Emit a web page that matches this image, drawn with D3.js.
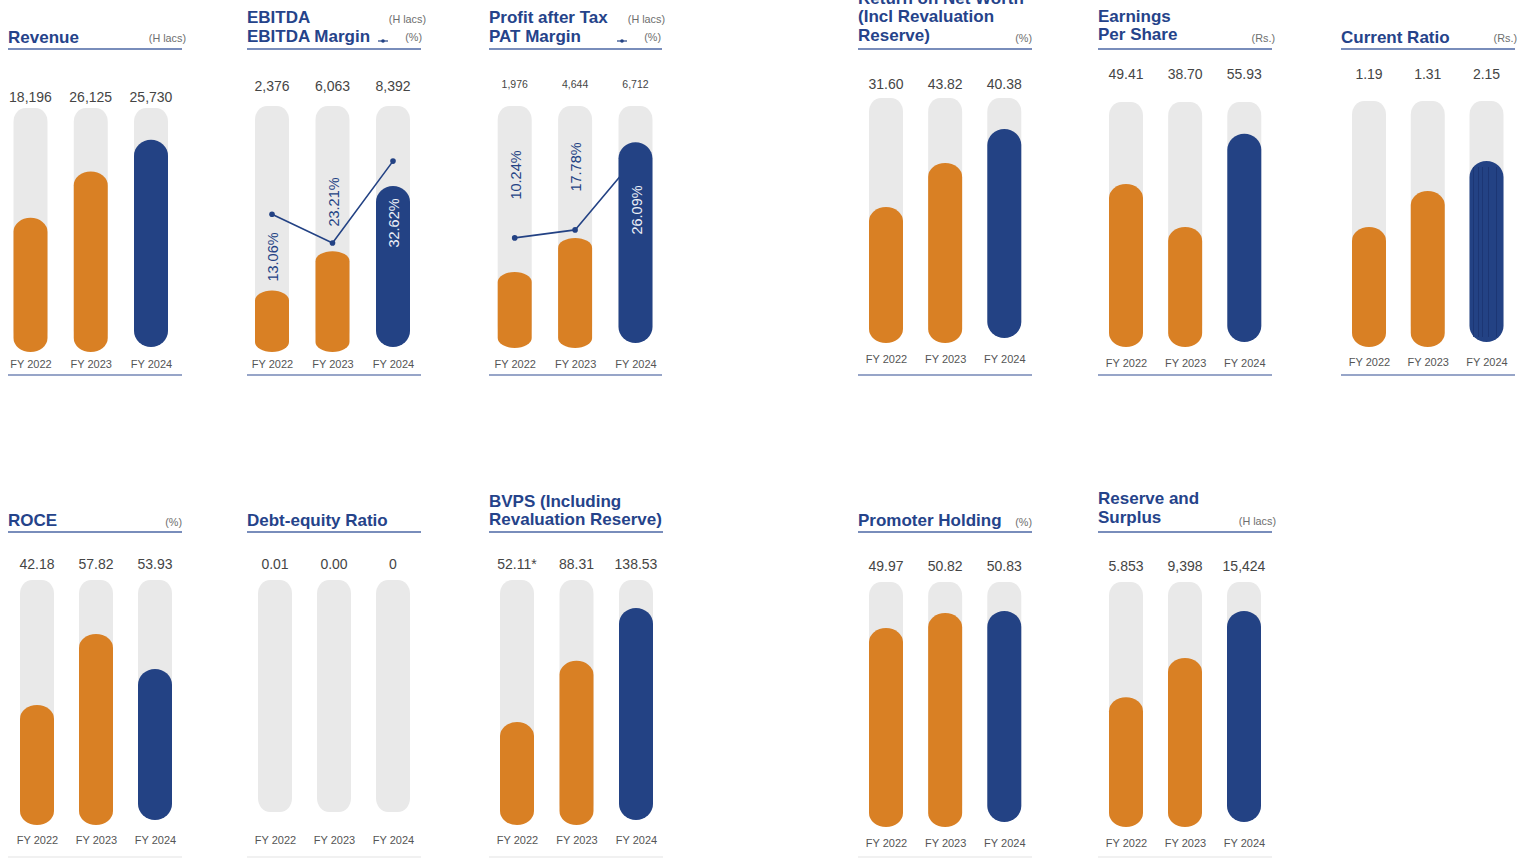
<!DOCTYPE html>
<html>
<head>
<meta charset="utf-8">
<script src="https://cdn.jsdelivr.net/npm/d3@7"></script>
<style>
  body { margin: 0; background: #fff; }
  svg { display: block; }
  text { font-family: "Liberation Sans", Arial, sans-serif; }
</style>
</head>
<body>
<svg id="chart" width="1532" height="858"></svg>
<script>
// categories
const years = ['FY 2022', 'FY 2023', 'FY 2024'];

// value labels as printed, and bar fill levels (% of track)
const revenueLabels = ['18,196', '26,125', '25,730'];
const revenueLevels = [55, 74, 87];

const ebitdaLabels = ['2,376', '6,063', '8,392'];
const ebitdaLevels = [25, 41, 67.5];
const ebitdaMarginLabels = ['13.06%', '23.21%', '32.62%'];
const ebitdaMarginLevels = [56, 44.3, 77.6];

const patLabels = ['1,976', '4,644', '6,712'];
const patLevels = [31.4, 45.5, 85];
const patMarginLabels = ['10.24%', '17.78%', '26.09%'];
const patMarginLevels = [45.5, 48.8, 78.5];

const ronwLabels = ['31.60', '43.82', '40.38'];
const ronwLevels = [55.5, 73.5, 87.3];

const epsLabels = ['49.41', '38.70', '55.93'];
const epsLevels = [66.5, 49, 87];

const currentRatioLabels = ['1.19', '1.31', '2.15'];
const currentRatioLevels = [48.8, 63.4, 75.6];

const roceLabels = ['42.18', '57.82', '53.93'];
const roceLevels = [49, 78, 63.7];

const debtEquityLabels = ['0.01', '0.00', '0'];
const debtEquityLevels = [0, 0, 0];

const bvpsLabels = ['52.11*', '88.31', '138.53'];
const bvpsLevels = [42, 67, 88.6];

const promoterLabels = ['49.97', '50.82', '50.83'];
const promoterLevels = [81.2, 87.3, 88.2];

const reserveLabels = ['5.853', '9,398', '15,424'];
const reserveLevels = [53, 69, 88.2];

const BLUE = '#234284', ORANGE = '#d98024', TRACK = '#e9e9e9', TITLE = '#25438a';

const panels = [
  { title: ['Revenue'], titleY: 42.5, units: [['(H lacs)', 186, 42]], left: 8, right: 182, lineY: 49,
    xr: [30.5, 151], trackTop: 108, base: 352, valueY: 101.5, fyY: 367.5, axisY: 375,
    labels: revenueLabels, levels: revenueLevels },
  { title: ['EBITDA', 'EBITDA Margin'], titleY: 23.3, units: [['(H lacs)', 426, 23], ['(%)', 422, 41]], left: 247, right: 421, lineY: 49,
    xr: [272, 393], trackTop: 106, base: 352, valueY: 90.5, fyY: 368, axisY: 375, capRy: 10, legend: [378, 41],
    labels: ebitdaLabels, levels: ebitdaLevels,
    margin: ebitdaMarginLevels, marginLabels: ebitdaMarginLabels, marginLabelY: [257, 202, 223] },
  { title: ['Profit after Tax', 'PAT Margin'], titleY: 23.3, units: [['(H lacs)', 665, 23], ['(%)', 661, 41]], left: 489, right: 662, lineY: 49,
    xr: [514.7, 635.5], trackTop: 106, base: 348, valueY: 88, valueSize: 10.5, fyY: 367.5, axisY: 375, capRy: 10, legend: [617, 41],
    labels: patLabels, levels: patLevels,
    margin: patMarginLevels, marginLabels: patMarginLabels, marginLabelY: [175, 167, 210] },
  { title: ['Return on Net Worth', '(Incl Revaluation', 'Reserve)'], titleY: 3.5, units: [['(%)', 1032, 42]], left: 858, right: 1032, lineY: 49,
    xr: [886, 1004.3], trackTop: 98, base: 343, valueY: 89, fyY: 362.5, axisY: 375,
    labels: ronwLabels, levels: ronwLevels },
  { title: ['Earnings', 'Per Share'], titleY: 21.5, units: [['(Rs.)', 1275, 42]], left: 1098, right: 1272, lineY: 49,
    xr: [1126, 1244.3], trackTop: 102, base: 347, valueY: 79, fyY: 366.5, axisY: 375,
    labels: epsLabels, levels: epsLevels },
  { title: ['Current Ratio'], titleY: 42.5, units: [['(Rs.)', 1517, 42]], left: 1341, right: 1515, lineY: 49,
    xr: [1369, 1486.5], trackTop: 101, base: 347, valueY: 79, fyY: 366, axisY: 375, stripes: true,
    labels: currentRatioLabels, levels: currentRatioLevels },
  { title: ['ROCE'], titleY: 525.7, units: [['(%)', 182, 526]], left: 8, right: 182, lineY: 532,
    xr: [37, 155], trackTop: 580, base: 825, valueY: 569, fyY: 844, axisY: 857, axisColor: '#ececec',
    labels: roceLabels, levels: roceLevels },
  { title: ['Debt-equity Ratio'], titleY: 525.7, units: [], left: 247, right: 421, lineY: 532,
    xr: [275, 393], trackTop: 580, base: 812, trackBottom: 812, valueY: 569, fyY: 844, axisY: 857, axisColor: '#ececec',
    labels: debtEquityLabels, levels: debtEquityLevels },
  { title: ['BVPS (Including', 'Revaluation Reserve)'], titleY: 506.5, units: [], left: 489, right: 663, lineY: 532,
    xr: [517, 636], trackTop: 580, base: 825, valueY: 569, fyY: 844, axisY: 857, axisColor: '#ececec',
    labels: bvpsLabels, levels: bvpsLevels },
  { title: ['Promoter Holding'], titleY: 526, units: [['(%)', 1032, 526]], left: 858, right: 1032, lineY: 532,
    xr: [886, 1004.3], trackTop: 582, base: 827, valueY: 571, fyY: 846.5, axisY: 857, axisColor: '#ececec',
    labels: promoterLabels, levels: promoterLevels },
  { title: ['Reserve and', 'Surplus'], titleY: 504, units: [['(H lacs)', 1276, 525]], left: 1098, right: 1272, lineY: 532,
    xr: [1126, 1244], trackTop: 582, base: 827, valueY: 571, fyY: 846.5, axisY: 857, axisColor: '#ececec',
    labels: reserveLabels, levels: reserveLevels }
];

const svg = d3.select('#chart');
const bw = 34;

panels.forEach(p => {
  const g = svg.append('g');
  const x = d3.scalePoint().domain(years).range(p.xr);
  const y = d3.scaleLinear().domain([0, 100]).range([p.base, p.trackTop]);

  // title + units + underline
  p.title.forEach((t, i) => {
    g.append('text').attr('x', p.left).attr('y', p.titleY + i * 18.8)
      .attr('font-size', 17).attr('font-weight', 'bold').attr('fill', TITLE).text(t);
  });
  p.units.forEach(u => {
    g.append('text').attr('x', u[1]).attr('y', u[2]).attr('text-anchor', 'end')
      .attr('font-size', 10.8).attr('fill', '#6e6e6e').text(u[0]);
  });
  g.append('line').attr('x1', p.left).attr('x2', p.right).attr('y1', p.lineY).attr('y2', p.lineY)
    .attr('stroke', '#4d67a4').attr('stroke-width', 1.4);

  if (p.legend) {
    g.append('line').attr('x1', p.legend[0]).attr('x2', p.legend[0] + 10)
      .attr('y1', p.legend[1]).attr('y2', p.legend[1]).attr('stroke', BLUE).attr('stroke-width', 1.2);
    g.append('circle').attr('cx', p.legend[0] + 5).attr('cy', p.legend[1]).attr('r', 1.8).attr('fill', BLUE);
  }

  // tracks
  const tb = p.trackBottom || (p.base - 8);
  g.selectAll('.track').data(years).enter().append('rect')
    .attr('class', 'track')
    .attr('x', d => x(d) - bw / 2).attr('y', p.trackTop)
    .attr('width', bw).attr('height', tb - p.trackTop)
    .attr('rx', 12).attr('ry', 14).attr('fill', TRACK);

  // margin line (sits under the fills)
  if (p.margin) {
    const pts = years.map((d, i) => ({ year: d, level: p.margin[i] }));
    g.append('path').datum(pts)
      .attr('d', d3.line().x(d => x(d.year)).y(d => y(d.level)))
      .attr('fill', 'none').attr('stroke', BLUE).attr('stroke-width', 1.6);
    g.selectAll('.dot').data(pts).enter().append('circle')
      .attr('cx', d => x(d.year)).attr('cy', d => y(d.level)).attr('r', 2.8).attr('fill', BLUE);
  }

  // fills
  const fills = years.map((d, i) => ({ year: d, level: p.levels[i], last: i === years.length - 1 }))
    .filter(d => d.level > 0);
  g.selectAll('.fill').data(fills).enter().append('rect')
    .attr('class', 'fill')
    .attr('x', d => x(d.year) - bw / 2)
    .attr('y', d => y(d.level))
    .attr('width', bw)
    .attr('height', d => (d.last ? p.base - 5 : p.base) - y(d.level))
    .attr('rx', bw / 2)
    .attr('ry', d => d.last ? 16 : (p.capRy || 14))
    .attr('fill', d => d.last ? BLUE : ORANGE);

  // the blue bar in the current ratio panel shows faint vertical streaks
  if (p.stripes) {
    const last = fills[fills.length - 1];
    const cx = x(last.year);
    [-13, -8, -4, 2, 10].forEach(o => {
      g.append('line').attr('x1', cx + o).attr('x2', cx + o)
        .attr('y1', y(last.level) + 6).attr('y2', p.base - 10)
        .attr('stroke', '#1b3470').attr('stroke-width', 0.8);
    });
  }

  // rotated margin labels
  if (p.marginLabels) {
    years.forEach((d, i) => {
      g.append('text')
        .attr('transform', `translate(${x(d) + 1},${p.marginLabelY[i]}) rotate(-90)`)
        .attr('text-anchor', 'middle').attr('dominant-baseline', 'central')
        .attr('font-size', 14.5)
        .attr('fill', i === years.length - 1 ? '#eef1f8' : BLUE)
        .text(p.marginLabels[i]);
    });
  }

  // value labels
  g.selectAll('.val').data(years).enter().append('text')
    .attr('x', d => x(d)).attr('y', p.valueY).attr('text-anchor', 'middle')
    .attr('font-size', p.valueSize || 14).attr('fill', '#454545')
    .text((d, i) => p.labels[i]);

  // category axis
  const ax = g.append('g').attr('transform', `translate(0,${p.fyY})`)
    .call(d3.axisBottom(x).tickSize(0).tickPadding(0));
  ax.select('.domain').remove();
  ax.selectAll('text').attr('y', 0).attr('dy', 0)
    .attr('font-size', 11).attr('fill', '#555')
    .style('font-family', '"Liberation Sans", Arial, sans-serif');

  g.append('line').attr('x1', p.left).attr('x2', p.right).attr('y1', p.axisY).attr('y2', p.axisY)
    .attr('stroke', p.axisColor || '#7487b6').attr('stroke-width', 1.3);
});
</script>
</body>
</html>
